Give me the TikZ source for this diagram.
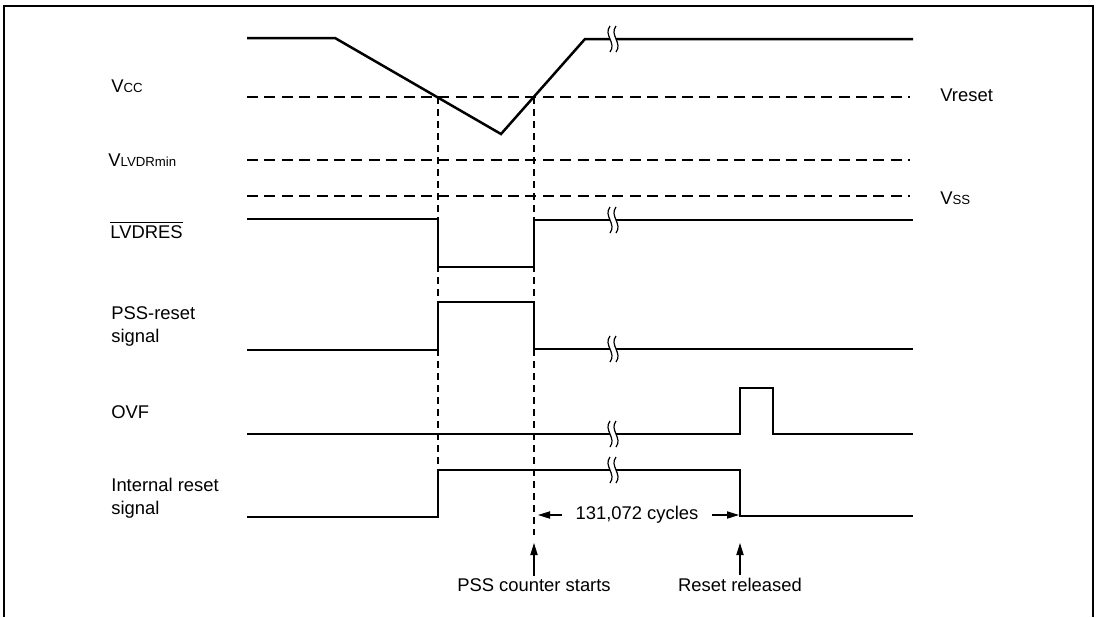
\documentclass[tikz,border=0pt]{standalone}
\usepackage{fontspec}
\setmainfont{Liberation Sans}
\usetikzlibrary{arrows.meta}
\newcommand{\lo}[1]{{\fontsize{6.6}{7}\selectfont #1}}
\tikzset{
  every picture/.style={line cap=butt, >={Triangle[length=6pt,width=3.6pt]}},
  every node/.style={font=\fontsize{9.2}{11.5}\selectfont, inner sep=0pt},
  % Linientypen
  wave/.style={line width=1.25pt},
  ref/.style={line width=0.6pt, dash pattern=on 5.5pt off 3.2pt},
  refthick/.style={line width=1.3pt, dash pattern=on 5.5pt off 3.2pt},
  guide/.style={line width=0.6pt, dash pattern=on 3.5pt off 2.5pt},
  frame/.style={line width=1pt},
  conn/.style={line width=0.6pt, ->},
  % Beschriftung
  lbl/.style={anchor=base west, align=left},
  % Unterbrechung der Zeitachse
  brk/.pic={
    \fill[white] (-3,-5) rectangle (3,5);
    \foreach \dx in {-3,3}
      \draw[line width=0.6pt] (\dx,-13) .. controls ({\dx-7},-4) and ({\dx+7},4) .. (\dx,13);
  },
}

\begin{document}
\begin{tikzpicture}[x=0.5pt, y=-0.5pt]
  \useasboundingbox (0,0) rectangle (1099,617);
  \draw[frame] (4,617) -- (4,6) -- (1093,6) -- (1093,617);
  % Bezugspegel
  \draw[ref] (247,97) -- (910,97);
  \draw[refthick] (247,160) -- (910,160);
  \draw[ref] (247,196) -- (910,196);
  % Zeitmarken
  \coordinate (tA) at (438,97);
  \coordinate (tB) at (534,97);
  \draw[guide] (tA) -- (438,470);
  \draw[guide] (tB) -- (534,535);
  % Signale
  \draw[wave] (247,38) -- (335,38) -- (501,134) -- (585,39) -- (913,39);
  \draw[wave] (247,219) -- (438,219) -- (438,267) -- (534,267) -- (534,220) -- (913,220);
  \draw[wave] (247,350) -- (438,350) -- (438,302) -- (534,302) -- (534,349) -- (913,349);
  \draw[wave] (247,434) -- (740,434) -- (740,388) -- (773,388) -- (773,434) -- (913,434);
  \draw[wave] (247,517) -- (438,517) -- (438,470) -- (740,470) -- (740,516) -- (913,516);
  \foreach \y in {39,220,349,434,470} \pic at (613,\y) {brk};
  % Namen der Signale (Grundlinie der letzten Zeile)
  \node[lbl] (vcc) at (111,92) {V\lo{CC}};
  \node[lbl] (vlvdr) at (108,166) {V\lo{LVDRmin}};
  \node[lbl] (lvdres) at (110,238) {$\overline{\mbox{LVDRES}}$};
  \node[lbl] (pssres) at (111,342) {PSS-reset\\signal};
  \node[lbl] (ovf) at (111,418) {OVF};
  \node[lbl] (intres) at (111,514) {Internal reset\\signal};
  \node[lbl] (vreset) at (940,101) {Vreset};
  \node[lbl] (vss) at (940,204) {V\lo{SS}};
  % Zeitabstand und Ereignisse
  \node[inner sep=6.5pt] (cyc) at (637,515) {131,072 cycles};
  \coordinate (cycL) at (538,515);
  \coordinate (cycR) at (739,515);
  \draw[conn] (cyc) -- (cycL);
  \draw[conn] (cyc) -- (cycR);
  \node[anchor=base] (pss) at (534,591) {PSS counter starts};
  \node[anchor=base] (rel) at (740,591) {Reset released};
  \coordinate (pssTip) at (534,543);
  \coordinate (relTip) at (740,543);
  \draw[conn] ([yshift=1pt]pss.north) -- (pssTip);
  \draw[conn] ([yshift=1pt]rel.north) -- (relTip);
\end{tikzpicture}
\end{document}
